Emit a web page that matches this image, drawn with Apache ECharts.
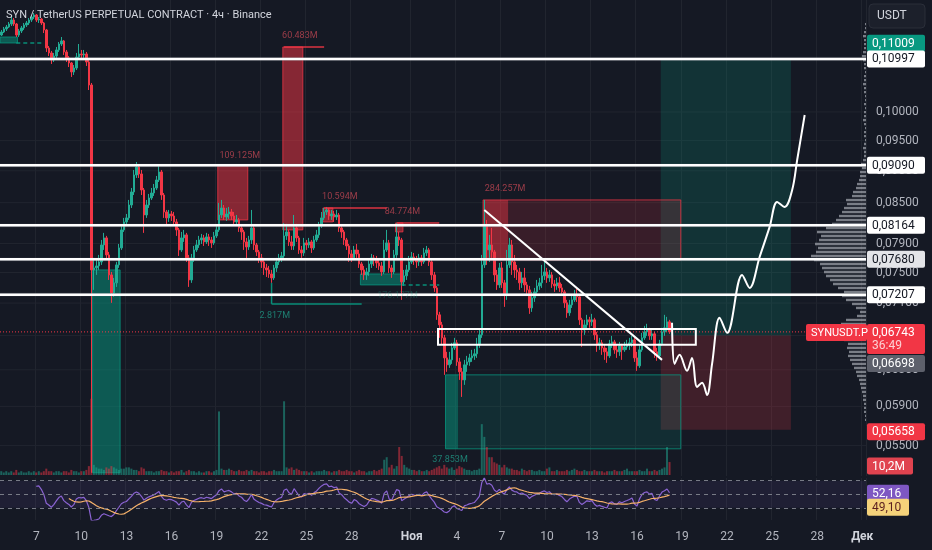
<!DOCTYPE html>
<html lang="ru">
<head>
<meta charset="utf-8">
<title>SYN / TetherUS</title>
<script src="https://cdn.jsdelivr.net/npm/echarts@6/dist/echarts.min.js"></script>
<style>
  html, body { margin: 0; padding: 0; background: #151924; }
  #chart { width: 932px; height: 550px; }
</style>
</head>
<body>
<div id="chart"></div>
<script>
// SYN / USDT perpetual, 4h candles (Binance)
const startTime = Date.UTC(2025, 9, 4, 16);   // first candle
const slotCount = 346;                          // 4h slots on the time axis (incl. empty future)
const firstOpen = 11480;
// one row per candle: [close, low, high] in 1e-5 USDT, open = previous close
const candles = [
  [11542,11459,11584],[11605,11521,11646],[11646,11563,11688],[11709,11626,11751],[11793,11667,11899],
  [11709,11667,11835],[11480,11439,11730],[11563,11439,11605],[11626,11521,11667],[11688,11584,11730],
  [11730,11646,11772],[11793,11688,11835],[11857,11751,11899],[11899,11814,11942],[11793,11751,11920],
  [11814,11730,11857],[11730,11688,11835],[11584,11521,11751],[11216,11136,11605],[11116,11056,11256],
  [10977,10899,11156],[11056,10938,11116],[11176,11017,11236],[11296,11136,11337],[11358,11256,11439],
  [11136,11076,11378],[11017,10938,11176],[10918,10840,11056],[10744,10648,10938],[10821,10686,10879],
  [11036,10782,11116],[11096,10997,11296],[11076,10997,11176],[11096,11017,11176],[10938,10860,11136],
  [10496,10402,10977],[7535,5238,10534],[7562,7270,7699],[7589,7468,7671],[7644,7535,7740],
  [7880,7603,7951],[7980,7810,8052],[7740,7671,8009],[7468,7401,7782],[7231,7103,7508],
  [7362,7180,7428],[7603,7309,7644],[7838,7562,7894],[8095,7810,8153],[8212,8066,8271],
  [8271,8153,8330],[8465,8241,8542],[8665,8420,8727],[8933,8618,9013],[9062,8885,9143],
  [8949,8885,9110],[8696,8618,9013],[8315,8052,8727],[8465,8271,8542],[8572,8420,8634],
  [8649,8542,8727],[8727,8603,8790],[8853,8696,8917],[8981,8821,9094],[8618,8542,9013],
  [8360,8271,8649],[8271,8168,8390],[8330,8212,8390],[8300,8226,8375],[8212,8153,8360],
  [8095,8009,8256],[7810,7726,8124],[7980,7782,8066],[8023,7923,8095],[7699,7644,8052],
  [7401,7309,7740],[7699,7362,7754],[7810,7644,7866],[7880,7782,7951],[7951,7838,8009],
  [7980,7894,8037],[7923,7866,8023],[7994,7894,8052],[7951,7866,8037],[7909,7838,7994],
  [8009,7880,8066],[8095,7980,8153],[8315,8066,8496],[8420,8271,8542],[8285,8241,8465],
  [8330,8226,8420],[8360,8256,8435],[8300,8241,8405],[8212,8153,8360],[8241,8153,8315],
  [8124,8066,8271],[8066,7951,8153],[7923,7810,8095],[7852,7671,7980],[7951,7810,8009],
  [8124,7894,8390],[7880,7810,8168],[7782,7726,7909],[7699,7630,7810],[7644,7562,7754],
  [7562,7468,7699],[7535,7441,7616],[7481,7428,7589],[7428,7362,7535],[7562,7401,7603],
  [7644,7508,7699],[7699,7603,7754],[7726,7644,7782],[8009,7699,8197],[8066,7951,8183],
  [7923,7866,8095],[7866,7810,8009],[8124,7810,8315],[7980,7923,8183],[7810,7754,8009],
  [7768,7699,7866],[7909,7726,7980],[7880,7810,7951],[7923,7838,7980],[7838,7768,7951],
  [7951,7810,8009],[8023,7923,8095],[8153,7980,8212],[8271,8124,8360],[8360,8241,8420],
  [8390,8315,8435],[8300,8241,8420],[8330,8241,8390],[8285,8212,8375],[8315,8241,8390],
  [8124,8066,8345],[8066,7980,8153],[7951,7880,8095],[7866,7810,7980],[7754,7644,7894],
  [7699,7644,7810],[7810,7671,7866],[7754,7699,7894],[7616,7562,7810],[7535,7468,7644],
  [7468,7401,7589],[7508,7401,7562],[7616,7455,7671],[7699,7562,7754],[7671,7589,7740],
  [7630,7562,7726],[7589,7535,7685],[7508,7455,7644],[7810,7481,7951],[7909,7782,8095],
  [7562,7495,7951],[7508,7428,7603],[7740,7481,7810],[7994,7699,8197],[7951,7866,8066],
  [7375,7141,7980],[7455,7322,7535],[7535,7401,7603],[7644,7508,7726],[7712,7616,7782],
  [7671,7603,7768],[7644,7562,7726],[7699,7589,7754],[7644,7589,7740],[7768,7616,7838],
  [7810,7726,7866],[7644,7589,7838],[7468,7401,7671],[7296,7244,7508],[6952,6890,7322],
  [6828,6671,6989],[6671,6588,6865],[6436,6243,6707],[6356,6277,6506],[6413,6322,6506],
  [6552,6367,6612],[6612,6529,6671],[6390,6345,6647],[6277,6187,6436],[6187,6001,6322],
  [6356,6132,6413],[6390,6277,6459],[6436,6345,6483],[6459,6390,6529],[6483,6413,6541],
  [6588,6436,6671],[6707,6552,6767],[7603,6671,7740],[8168,7562,8542],[7810,7603,8241],
  [7880,7644,8023],[7782,7699,8124],[7468,7375,7810],[7335,7270,7535],[7562,7296,7630],
  [7362,7296,7644],[7205,7052,7401],[7603,7141,7810],[7880,7562,7980],[7644,7468,7951],
  [7535,7428,7740],[7508,7401,7603],[7362,7270,7562],[7428,7296,7508],[7335,7244,7562],
  [7270,7192,7375],[7039,6964,7322],[7167,6989,7244],[7244,7115,7296],[7322,7205,7401],
  [7362,7270,7428],[7455,7296,7603],[7508,7401,7644],[7428,7362,7562],[7468,7375,7535],
  [7348,7296,7508],[7322,7244,7401],[7362,7270,7428],[7296,7244,7441],[7244,7192,7348],
  [7103,7039,7270],[6977,6915,7141],[7077,6939,7141],[7141,7039,7205],[7192,7115,7270],
  [7180,7115,7283],[6890,6828,7205],[6767,6564,6915],[6828,6707,6890],[6890,6767,6952],
  [6865,6792,6927],[6890,6816,6964],[6707,6647,6915],[6588,6506,6743],[6612,6529,6671],
  [6552,6471,6647],[6506,6413,6588],[6459,6379,6552],[6600,6436,6647],[6623,6552,6695],
  [6529,6483,6647],[6506,6436,6588],[6576,6459,6623],[6529,6413,6600],[6564,6506,6623],
  [6588,6529,6647],[6612,6529,6671],[6647,6564,6695],[6436,6390,6671],[6345,6288,6506],
  [6529,6322,6588],[6671,6506,6731],[6743,6647,6816],[6767,6695,6841],[6695,6647,6792],
  [6719,6647,6780],[6506,6436,6743],[6459,6402,6552],[6600,6436,6647],[6743,6576,6792],
  [6792,6695,6952],[6865,6743,6927],[6743,6719,6890]
];
// volume per candle, millions
const volumes = [
  3,2,3,2,3,2,4,2,3,2, 2,3,2,3,2,3,2,3,5,3, 3,2,3,3,2,3,3,2,4,3, 3,2,3,3,4,7,
  60, 8,6,5,5,4,6,5,7,6,5,4,
  5,5,6,6,5,4,4,3,6,5, 3,3,3,2,3,3,4,3,3,2, 3,2,3,3,4,2,3,4,3,3, 2,3,2,2,3,3,2,3,4,
  50, 5,4,4,5,4,3,3,4,3,3, 4,3,4,3,3,2,3,3,2,3, 3,4,3,3,3,
  58, 6,5,6,4,5,4,3,3,3,2, 3,2,3,3,3,4,3,3,2,3, 3,4,3,3,4,3,3,2,3,4, 3,3,2,3,3,4,3,4,5,
  12,14,6,8,5,7,22,15,
  8,6,5,4,4,3,4,3,3,4, 3,4,5,6,7,5,8,6,5,6, 4,5,7,6,5,4,4,3,4,4, 5,
  40,30,22,14,14,10,9,8,6,8,
  6,5,5,4,4,3,5,4,3,4, 4,3,3,4,3,3,5,6,3,3, 4,3,3,3,4,3,4,5,4,3, 3,4,3,3,3,4,3,3,3,2,
  3,3,3,4,3,3,3,4,5,3, 3,3,3,4,3,3,5,3,3,4, 3,4,5,6,
  22, 10.2
];
const yTicks = [0.1, 0.095, 0.09, 0.085, 0.079, 0.075, 0.071, 0.067, 0.063, 0.059, 0.055];
const xTickDates = ['2025-10-07','2025-10-10','2025-10-13','2025-10-16','2025-10-19','2025-10-22','2025-10-25',
  '2025-10-28','2025-11-01','2025-11-04','2025-11-07','2025-11-10','2025-11-13','2025-11-16','2025-11-19',
  '2025-11-22','2025-11-25','2025-11-28','2025-12-01'];
const xTickNames = ['7','10','13','16','19','22','25','28','Ноя','4','7','10','13','16','19','22','25','28','Дек'];
const priceMin = 0.05208, priceMax = 0.12223;

// drawings
const levels = [0.10997, 0.09090, 0.08164, 0.07680, 0.07207];
const lastPrice = 0.06743;
const entryPrice = 0.06698, targetPrice = 0.11009, stopPrice = 0.05658;
const positionSlots = [264, 315];
// [fromSlot, headToSlot, toSlot, high, low, side]
const zones = [
  [0, 6, 6, 0.11439, 0.11317, 'up'],
  [37, 47, 47, 0.07535, 0.05238, 'up'],
  [87, 98, 98, 0.09078, 0.08241, 'down'],
  [113, 120, 120, 0.11236, 0.08095, 'down'],
  [129, 132, 132, 0.08420, 0.08212, 'down'],
  [158, 160, 160, 0.08197, 0.08066, 'down'],
  [144, 160, 160, 0.07481, 0.07335, 'up'],
  [193, 202, 271, 0.08542, 0.07671, 'down'],
  [178, 182, 271, 0.06243, 0.05468, 'up']
];
// [slot1, price1, slot2, price2, side, dashed]
const segments = [
  [6, 0.11317, 16, 0.11317, 'up', 1],
  [113, 0.11236, 129, 0.11236, 'down', 0],
  [129, 0.08420, 154, 0.08420, 'down', 0],
  [158, 0.08197, 175, 0.08197, 'down', 0],
  [108, 0.07362, 108, 0.07090, 'up', 0],
  [108, 0.07090, 144, 0.07090, 'up', 0],
  [160, 0.07335, 175, 0.07335, 'up', 1]
];
// [slot, price, text, side]
const notes = [
  [112, 0.11459, '60.483M', 'down'],
  [87, 0.09250, '109.125M', 'down'],
  [128, 0.08588, '10.594M', 'down'],
  [153, 0.08360, '84.774M', 'down'],
  [193, 0.08712, '284.257M', 'down'],
  [103, 0.06939, '2.817M', 'up'],
  [150, 0.07192, '176.177M', 'faint'],
  [172, 0.05361, '37.853M', 'up']
];
const frame = [175, 277, 0.06779, 0.06588];
const trend = [[193, 0.08390], [264, 0.06413]];
const forecast = [[268,0.06853],[269,0.06367],[271,0.06471],[274,0.06288],[276,0.06436],[278,0.06110],
  [280,0.06154],[282,0.06023],[284,0.06367],[287,0.06915],[290,0.06731],[296,0.07468],[299,0.07296],
  [303,0.07712],[307,0.08139],[310,0.08512],[313,0.08435],[316,0.08696],[318,0.09176],[321,0.09946]];
// visible range volume profile, bins from profileLow upwards
const profileLow = 0.05759, profileRatio = 1.00719;
const profile = [
  1,1,2,2,2,3,3,4,5,6, 7,9,10,12,14,16,18,17,19,18, 22,20,24,26,25,20,9,6,10,14,
  20,24,22,28,33,36,40,42,44,46, 52,55,50,48,51,47,45,49,40,34, 30,27,24,22,19,20,14,13,10,9,
  7,6,6,4,5,3, 2,2,3,2,1,2,2,1,2,3, 2,2,1,2,1,1,2,2,3,2, 2,1,2,2,3,4,3,2,2,2, 3,2,1,1
];
const rsiLast = 52.16, rsiMaLast = 49.10, lastVolume = 10.2, timerText = '36:49';

const upColor = '#22ab94', downColor = '#f23645';
const gridColor = '#21252f';
const font = 'Roboto, "DejaVu Sans", sans-serif';

// ---- build ----
const H4 = 4 * 3600 * 1000;
const slots = Array.from({length: slotCount}, (_, i) => new Date(startTime + i * H4).toISOString().slice(0, 13));
const tickAt = {};
xTickDates.forEach((d, k) => {
  tickAt[Math.round((Date.parse(d + 'T00:00:00Z') - startTime) / H4)] = xTickNames[k];
});
const isTick = i => tickAt[i] !== undefined;

const ohlc = [], ups = [];
let prevClose = firstOpen;
candles.forEach(([c, l, h]) => {
  const o = prevClose;
  ohlc.push([o, c, Math.min(l, o, c), Math.max(h, o, c)].map(v => Math.log(v / 1e5)));
  ups.push(c >= o);
  prevClose = c;
});

function rsi(closes, n) {
  const out = closes.map(() => null);
  let g = 0, l = 0;
  for (let i = 1; i <= n; i++) {
    const d = closes[i] - closes[i - 1];
    if (d > 0) g += d; else l -= d;
  }
  g /= n; l /= n;
  out[n] = 100 - 100 / (1 + g / l);
  for (let i = n + 1; i < closes.length; i++) {
    const d = closes[i] - closes[i - 1];
    g = (g * (n - 1) + Math.max(d, 0)) / n;
    l = (l * (n - 1) + Math.max(-d, 0)) / n;
    out[i] = l === 0 ? 100 : 100 - 100 / (1 + g / l);
  }
  return out;
}
function sma(vals, n) {
  return vals.map((v, i) => {
    if (i < n - 1) return null;
    const win = vals.slice(i - n + 1, i + 1);
    if (win.some(x => x == null)) return null;
    return win.reduce((a, b) => a + b, 0) / n;
  });
}
const rsiVals = rsi(candles.map(r => r[0]), 14);
const rsiMa = sma(rsiVals, 14);

const fmt = p => p.toFixed(5).replace('.', ',');
const rgb = side => side === 'down' ? '242,54,69' : '8,153,129';

function band(api, a, b, hi, lo) {
  const w = api.size([1, 0])[0];
  const p = api.coord([a, hi]), q = api.coord([b, lo]);
  return {x: p[0] - w / 2, y: p[1], width: q[0] - p[0] + w, height: q[1] - p[1]};
}

function hSeries(values, style, z) {
  return {
    type: 'custom', xAxisIndex: 0, yAxisIndex: 0, z: z, silent: true,
    data: values.map(p => [0, Math.log(p)]),
    encode: {x: 0, y: 1},
    renderItem: (params, api) => {
      const cs = params.coordSys;
      const y = api.coord([0, api.value(1)])[1];
      return {type: 'line', shape: {x1: cs.x, y1: y, x2: cs.x + cs.width, y2: y}, style: Object.assign({}, style)};
    }
  };
}

const catAxis = (grid, labels) => ({
  type: 'category', gridIndex: grid, data: slots, boundaryGap: true,
  axisLine: {show: false}, axisTick: {show: false},
  axisLabel: {
    show: labels, interval: i => isTick(i), margin: 11, color: '#b2b5be', fontSize: 12, fontFamily: font,
    formatter: (v, i) => {
      const t = tickAt[i];
      if (t === undefined) return '';
      return isNaN(+t) ? '{m|' + t + '}' : t;
    },
    rich: {m: {fontWeight: 'bold', color: '#d1d4dc', fontSize: 12, fontFamily: font}}
  },
  splitLine: {show: grid !== 1, interval: i => isTick(i), lineStyle: {color: gridColor, width: 1}}
});

const chart = echarts.init(document.getElementById('chart'));

const option = {
  animation: false,
  backgroundColor: '#151924',
  textStyle: {fontFamily: font},
  grid: [
    {left: 0, right: 66, top: 0, height: 476, outerBoundsMode: 'none'},
    {left: 0, right: 66, top: 386, height: 89, outerBoundsMode: 'none'},
    {left: 0, right: 66, top: 478, height: 42, outerBoundsMode: 'none'},
    {left: 800, width: 66, top: 0, height: 476, outerBoundsMode: 'none'}
  ],
  xAxis: [
    catAxis(0, false),
    catAxis(1, false),
    catAxis(2, true),
    {type: 'value', gridIndex: 3, min: 0, max: 66, inverse: true, show: false}
  ],
  yAxis: [
    {
      type: 'value', gridIndex: 0, position: 'right',
      min: Math.log(priceMin), max: Math.log(priceMax),
      axisLine: {show: false}, axisTick: {show: false}, splitLine: {show: false},
      axisLabel: {
        customValues: yTicks.map(Math.log), margin: 10,
        formatter: v => fmt(Math.exp(v)), color: '#b2b5be', fontSize: 12, fontFamily: font
      }
    },
    {type: 'value', gridIndex: 1, min: 0, max: 70, show: false},
    {type: 'value', gridIndex: 2, min: 12, max: 74, show: false},
    {type: 'value', gridIndex: 3, min: Math.log(priceMin), max: Math.log(priceMax), show: false}
  ],
  series: [
    hSeries(yTicks, {stroke: gridColor, lineWidth: 1}, 0),
    {
      type: 'custom', name: 'position', xAxisIndex: 0, yAxisIndex: 0, z: 1, silent: true,
      data: [[positionSlots[0], positionSlots[1], Math.log(targetPrice), Math.log(entryPrice), Math.log(stopPrice)]],
      encode: {x: [0, 1], y: [2, 3, 4]},
      renderItem: (params, api) => ({
        type: 'group', children: [
          {type: 'rect', shape: band(api, api.value(0), api.value(1), api.value(2), api.value(3)), style: {fill: 'rgba(8,153,129,0.2)'}},
          {type: 'rect', shape: band(api, api.value(0), api.value(1), api.value(3), api.value(4)), style: {fill: 'rgba(242,54,69,0.2)'}}
        ]
      })
    },
    {
      type: 'custom', name: 'zones', xAxisIndex: 0, yAxisIndex: 0, z: 1, silent: true,
      data: zones.map(z => [z[0], z[2], Math.log(z[3]), Math.log(z[4])]),
      encode: {x: [0, 1], y: [2, 3]},
      renderItem: (params, api) => {
        const z = zones[params.dataIndex];
        const c = rgb(z[5]);
        const hi = Math.log(z[3]), lo = Math.log(z[4]);
        return {
          type: 'group', children: [
            {type: 'rect', shape: band(api, z[0], z[2], hi, lo), style: {fill: 'rgba(' + c + ',0.16)', stroke: 'rgba(' + c + ',0.75)', lineWidth: 1}},
            {type: 'rect', shape: band(api, z[0], z[1], hi, lo), style: {fill: 'rgba(' + c + ',0.42)'}}
          ]
        };
      }
    },
    {
      type: 'bar', name: 'volume', xAxisIndex: 1, yAxisIndex: 1, z: 2, barWidth: 2, silent: true,
      data: volumes.map((v, i) => ({value: v, itemStyle: {color: ups[i] ? 'rgba(34,171,148,0.5)' : 'rgba(242,54,69,0.5)'}}))
    },
    {
      type: 'custom', name: 'profile', xAxisIndex: 3, yAxisIndex: 3, z: 2, silent: true,
      data: profile.map((w, k) => [w, Math.log(profileLow) + k * Math.log(profileRatio)]),
      encode: {x: 0, y: 1},
      renderItem: (params, api) => {
        const a = api.coord([0, api.value(1)]), b = api.coord([api.value(0), api.value(1)]);
        return {type: 'rect', shape: {x: b[0], y: a[1] - 1.2, width: a[0] - b[0], height: 2.4}, style: {fill: 'rgba(190,193,202,0.6)'}};
      }
    },
    {
      type: 'candlestick', name: 'SYNUSDT.P', xAxisIndex: 0, yAxisIndex: 0, z: 3, barWidth: 2,
      data: ohlc,
      itemStyle: {color: upColor, color0: downColor, borderColor: upColor, borderColor0: downColor, borderWidth: 1}
    },
    {
      type: 'custom', name: 'segments', xAxisIndex: 0, yAxisIndex: 0, z: 4, silent: true,
      data: segments.map(s => [s[0], s[2], Math.log(s[1]), Math.log(s[3])]),
      encode: {x: [0, 1], y: [2, 3]},
      renderItem: (params, api) => {
        const s = segments[params.dataIndex];
        const p = api.coord([s[0], Math.log(s[1])]), q = api.coord([s[2], Math.log(s[3])]);
        return {type: 'line', shape: {x1: p[0], y1: p[1], x2: q[0], y2: q[1]},
          style: {stroke: 'rgba(' + rgb(s[4]) + ',0.9)', lineWidth: 1.5, lineDash: s[5] ? [4, 3] : null}};
      }
    },
    hSeries([lastPrice], {stroke: '#f23645', lineWidth: 1, lineDash: [1, 2]}, 4),
    hSeries(levels, {stroke: '#ffffff', lineWidth: 2.5, shadowColor: 'rgba(120,123,134,0.9)', shadowBlur: 1}, 5),
    {
      type: 'custom', name: 'frame', xAxisIndex: 0, yAxisIndex: 0, z: 5, silent: true,
      data: [[frame[0], frame[1], Math.log(frame[2]), Math.log(frame[3])]],
      encode: {x: [0, 1], y: [2, 3]},
      renderItem: (params, api) => ({
        type: 'rect', shape: band(api, api.value(0), api.value(1), api.value(2), api.value(3)),
        style: {fill: 'none', stroke: '#ffffff', lineWidth: 2}
      })
    },
    {
      type: 'line', name: 'trend', xAxisIndex: 0, yAxisIndex: 0, z: 5, silent: true,
      data: trend.map(t => [t[0], Math.log(t[1])]), showSymbol: false, symbol: 'none',
      lineStyle: {color: '#ffffff', width: 2}
    },
    {
      type: 'line', name: 'forecast', xAxisIndex: 0, yAxisIndex: 0, z: 6, silent: true,
      data: forecast.map(t => [t[0], Math.log(t[1])]), showSymbol: false, symbol: 'none', smooth: 0.35,
      lineStyle: {color: '#ffffff', width: 2}
    },
    {
      type: 'scatter', name: 'notes', xAxisIndex: 0, yAxisIndex: 0, z: 6, silent: true,
      symbolSize: 1, itemStyle: {color: 'transparent'},
      label: {show: true, position: 'right', distance: 0, fontSize: 9, fontFamily: font},
      data: notes.map(n => ({
        value: [n[0], Math.log(n[1])],
        label: {
          formatter: n[2],
          color: n[3] === 'down' ? 'rgba(242,84,96,0.75)' : n[3] === 'up' ? 'rgba(34,171,148,0.85)' : 'rgba(34,171,148,0.35)'
        }
      }))
    },
    {
      type: 'line', name: 'RSI', xAxisIndex: 2, yAxisIndex: 2, z: 3, data: rsiVals,
      showSymbol: false, symbol: 'none', lineStyle: {color: '#8a63d2', width: 1.2},
      markArea: {silent: true, itemStyle: {color: 'rgba(126,87,194,0.1)'}, data: [[{yAxis: 30}, {yAxis: 70}]]},
      markLine: {
        silent: true, symbol: ['none', 'none'], label: {show: false},
        lineStyle: {color: '#787b86', type: [4, 4], width: 1},
        data: [{yAxis: 70}, {yAxis: 50}, {yAxis: 30}]
      }
    },
    {
      type: 'line', name: 'RSI MA', xAxisIndex: 2, yAxisIndex: 2, z: 4, data: rsiMa,
      showSymbol: false, symbol: 'none', lineStyle: {color: '#f7b26a', width: 1.2}
    }
  ]
};
chart.setOption(option);

// ---- scale tags ----
function tag(x, top, w, bg, rows, size) {
  const h = 17 + (rows.length - 1) * 13;
  return {
    type: 'group', x: x, y: top, z: 200, silent: true,
    children: [
      {type: 'rect', z: 200, shape: {x: 0, y: 0, width: w, height: h, r: 2}, style: {fill: bg}},
      ...rows.map((r, k) => ({
        type: 'text', z: 201, x: 5, y: 9 + k * 13,
        style: {text: r[0], fill: r[1], font: (size || 12) + 'px ' + font, verticalAlign: 'middle'}
      }))
    ]
  };
}
const py = p => chart.convertToPixel({yAxisIndex: 0}, Math.log(p));
const priceTags = [
  [targetPrice, '#089981', '#ffffff', -15],
  [0.10997, '#ffffff', '#131722', 0],
  [0.09090, '#ffffff', '#131722', 0],
  [0.08164, '#ffffff', '#131722', 0],
  [0.07680, '#e3e4e8', '#131722', 0],
  [0.07207, '#ffffff', '#131722', 0],
  [entryPrice, '#5d606b', '#ffffff', 28],
  [stopPrice, '#f23645', '#ffffff', 2]
];
const graphics = [
  {type: 'text', x: 6, y: 15, z: 200, silent: true,
    style: {text: 'SYN / TetherUS PERPETUAL CONTRACT · 4ч · Binance', fill: '#d1d4dc', font: '11px ' + font, verticalAlign: 'middle'}},
  {type: 'group', x: 869, y: 4, z: 200, silent: true, children: [
    {type: 'rect', z: 200, shape: {x: 0, y: 0, width: 56, height: 24, r: 4}, style: {fill: '#1c202b', stroke: '#2a2e39'}},
    {type: 'text', z: 201, x: 8, y: 12, style: {text: 'USDT', fill: '#d1d4dc', font: '12px ' + font, verticalAlign: 'middle'}}
  ]}
];
priceTags.forEach(t => graphics.push(tag(867, py(t[0]) - 8.5 + t[3], 58, t[1], [[fmt(t[0]), t[2]]])));
const yLast = py(lastPrice);
graphics.push(tag(867, yLast - 8, 58, '#f23645', [[fmt(lastPrice), '#ffffff'], [timerText, '#fdd0d3']]));
graphics.push(tag(806, yLast - 8, 61, '#f23645', [['SYNUSDT.P', '#ffffff']], 11));
const yVol = chart.convertToPixel({yAxisIndex: 1}, lastVolume);
graphics.push(tag(867, yVol - 8.5 + 4, 46, '#e0434f', [[lastVolume.toFixed(1).replace('.', ',') + 'M', '#ffffff']]));
const yRsi = chart.convertToPixel({yAxisIndex: 2}, rsiLast);
const yRsiMa = chart.convertToPixel({yAxisIndex: 2}, rsiMaLast);
graphics.push(tag(867, yRsi - 8, 42, '#7e57c2', [[rsiLast.toFixed(2).replace('.', ','), '#ffffff']]));
graphics.push(tag(867, yRsiMa - 8 + 12, 42, '#f5d27a', [[rsiMaLast.toFixed(2).replace('.', ','), '#5a1f1f']]));
chart.setOption({graphic: graphics});
</script>
</body>
</html>
